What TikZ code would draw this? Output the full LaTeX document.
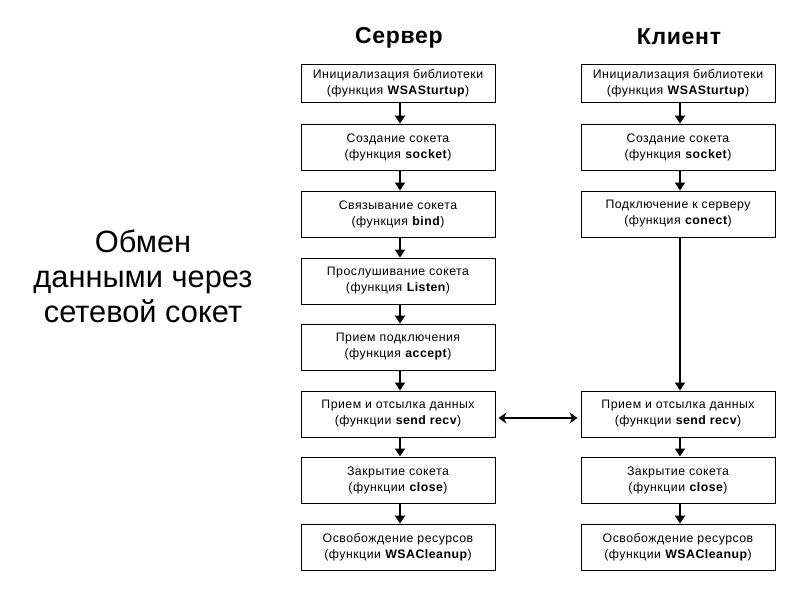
\documentclass[tikz,border=0pt]{standalone}
\usepackage{fontspec}
\setmainfont{Liberation Sans}
\usetikzlibrary{arrows.meta}
\tikzset{
  stepbox/.style={draw, line width=1pt, minimum width=194pt, minimum height=46pt, align=center, inner sep=2pt,
    font=\fontsize{12.3pt}{16pt}\selectfont\addfontfeatures{LetterSpace=4}},
  flow/.style={line width=1.8pt, -{Triangle[width=10pt,length=8pt]}},
  swap/.style={line width=1.8pt, {Stealth[width=11pt,length=8pt]}-{Stealth[width=11pt,length=8pt]}},
  head/.style={font=\fontsize{23pt}{26pt}\selectfont\bfseries\addfontfeatures{LetterSpace=3}},
}
\begin{document}
\begin{tikzpicture}[x=1pt,y=-1pt]
\useasboundingbox (0,0) rectangle (800,600);
% headings
\node[head] (hs) at (399,38) {Сервер};
\node[head] (hc) at (679,37) {Клиент};
% left title
\node[align=center, font=\fontsize{30.8pt}{35pt}\selectfont] (title) at (143,276) {Обмен\\данными через\\сетевой сокет};
% server
\node[stepbox, minimum height=38pt] (s1) at (398,83) {Инициализация библиотеки\\(функция \textbf{WSASturtup})};
\node[stepbox] (s2) at (398,147) {Создание сокета\\(функция \textbf{socket})};
\node[stepbox] (s3) at (398,214) {Связывание сокета\\(функция \textbf{bind})};
\node[stepbox] (s4) at (398,281) {Прослушивание сокета\\(функция \textbf{Listen})};
\node[stepbox] (s5) at (398,347) {Прием подключения\\(функция \textbf{accept})};
\node[stepbox] (s6) at (398,414) {Прием и отсылка данных\\(функции \textbf{send recv})};
\node[stepbox] (s7) at (398,480) {Закрытие сокета\\(функции \textbf{close})};
\node[stepbox] (s8) at (398,547) {Освобождение ресурсов\\(функции \textbf{WSACleanup})};
% client
\node[stepbox, minimum height=38pt] (c1) at (678,83) {Инициализация библиотеки\\(функция \textbf{WSASturtup})};
\node[stepbox] (c2) at (678,147) {Создание сокета\\(функция \textbf{socket})};
\node[stepbox] (c3) at (678,214) {Подключение к серверу\\(функция \textbf{conect})};
\node[stepbox] (c6) at (678,414) {Прием и отсылка данных\\(функции \textbf{send recv})};
\node[stepbox] (c7) at (678,480) {Закрытие сокета\\(функции \textbf{close})};
\node[stepbox] (c8) at (678,547) {Освобождение ресурсов\\(функции \textbf{WSACleanup})};
% arrows
\foreach \a/\b in {s1/s2,s2/s3,s3/s4,s4/s5,s5/s6,s6/s7,s7/s8,c1/c2,c2/c3,c3/c6,c6/c7,c7/c8}
  \draw[flow] ([xshift=2pt]\a.south) -- ([xshift=2pt]\b.north);
\draw[swap] ([xshift=3pt,yshift=-4pt]s6.east) -- ([xshift=-3pt,yshift=-4pt]c6.west);
\end{tikzpicture}
\end{document}
